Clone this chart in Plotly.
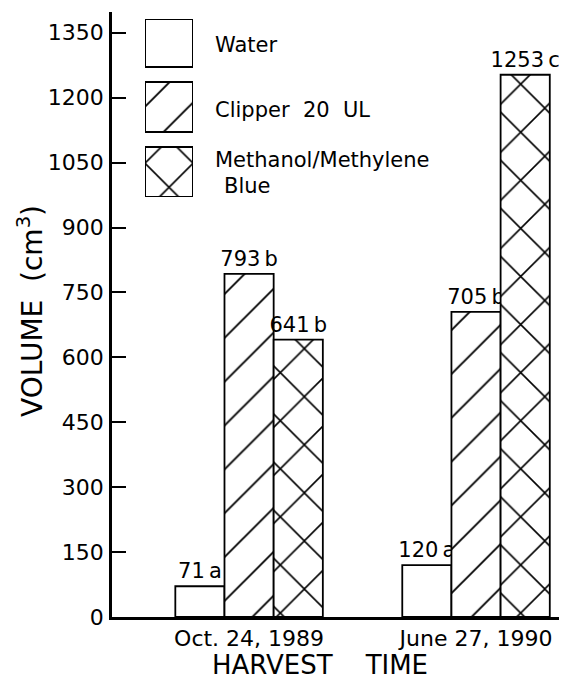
import plotly.graph_objects as go

# ---- data ----
harvest_dates = ["Oct. 24, 1989", "June 27, 1990"]
treatments = ["Water", "Clipper 20 UL", "Methanol/Methylene Blue"]
water = [71, 120]
clipper = [793, 705]
methanol = [641, 1253]
water_letters = ["a", "a"]
clipper_letters = ["b", "b"]
methanol_letters = ["b", "c"]
y_ticks = [0, 150, 300, 450, 600, 750, 900, 1050, 1200, 1350]

FONT = "DejaVu Sans"
# the page body has an 8px margin, so the figure sits at (8, 8) in the window
OFF = 8
W, H = 567 - OFF, 680 - OFF
L, R, T, B = 112 - OFF, 7, 12 - OFF, 63
PW, PH = W - L - R, H - T - B


def px(x):
    # page pixel x -> paper fraction
    return (x - OFF - L) / PW


def py(y):
    # page pixel y -> paper fraction
    return (H - B - (y - OFF)) / PH


def label(vals, letters):
    return [f"{v}\u2009{l}" for v, l in zip(vals, letters)]


patterns = [
    dict(shape=""),
    dict(shape="/", size=31, solidity=0.06, fgcolor="black", fgopacity=1,
         bgcolor="white", fillmode="overlay"),
    dict(shape="x", size=34, solidity=0.09, fgcolor="black", fgopacity=1,
         bgcolor="white", fillmode="overlay"),
]
series = [(water, water_letters), (clipper, clipper_letters), (methanol, methanol_letters)]

fig = go.Figure()
for name, (vals, letters), pat in zip(treatments, series, patterns):
    fig.add_trace(go.Bar(
        x=harvest_dates, y=vals, name=name,
        marker=dict(color="white", line=dict(color="black", width=1.8), pattern=pat),
        text=label(vals, letters), textposition="outside", constraintext="none",
        cliponaxis=False,
        textfont=dict(family=FONT, size=21, color="black"),
        showlegend=False,
    ))

# legend swatches drawn as bars on a hidden overlay axis
swatch_base = [130, 65, 0]
swatch_h = [48, 50, 50]
for name, pat, b0, h0 in zip(treatments, patterns, swatch_base, swatch_h):
    fig.add_trace(go.Bar(
        x=[0], y=[h0], base=[b0], width=1, offset=-0.5,
        xaxis="x2", yaxis="y2",
        marker=dict(color="white", line=dict(color="black", width=2), pattern=pat),
        showlegend=False, hoverinfo="skip",
    ))

ann = []
ann.append(dict(text="Water", x=px(213), y=py(45)))
ann.append(dict(text="Clipper\u00a0\u00a020\u00a0\u00a0UL", x=px(213), y=py(110)))
ann.append(dict(text="Methanol/Methylene", x=px(213), y=py(160)))
ann.append(dict(text="Blue", x=px(222), y=py(186)))
annotations = [dict(a, xref="paper", yref="paper", xanchor="left", yanchor="middle",
                    showarrow=False, font=dict(family=FONT, size=21, color="black")) for a in ann]
annotations.append(dict(text="HARVEST\u00a0\u00a0\u00a0\u00a0TIME", x=px(320), y=py(665),
                        xref="paper", yref="paper", xanchor="center", yanchor="middle",
                        showarrow=False, borderpad=0,
                        font=dict(family=FONT, size=26, color="black")))
annotations.append(dict(text="VOLUME\u00a0\u00a0(cm<sup>3</sup>)", x=px(31), y=py(311),
                        xref="paper", yref="paper", xanchor="center", yanchor="middle",
                        textangle=-90, showarrow=False,
                        font=dict(family=FONT, size=28, color="black")))

fig.update_layout(
    width=W, height=H,
    margin=dict(l=L, r=R, t=T, b=B, autoexpand=False),
    paper_bgcolor="white", plot_bgcolor="white",
    barmode="group", bargap=0.35, bargroupgap=0,
    font=dict(family=FONT, color="black"),
    annotations=annotations,
    xaxis=dict(
        type="category", range=[-0.604, 1.37], showline=True, linecolor="black",
        linewidth=2.5, ticks="", showgrid=False, zeroline=False,
        tickfont=dict(family=FONT, size=22, color="black"), ticklabelstandoff=0,
    ),
    yaxis=dict(
        range=[0, 1398], tickvals=y_ticks, ticks="inside", ticklen=14, tickwidth=2,
        tickcolor="black", showline=True, linecolor="black", linewidth=2.5,
        showgrid=False, zeroline=False, ticklabelstandoff=1,
        tickfont=dict(family=FONT, size=22, color="black"),
    ),
    xaxis2=dict(domain=[px(145), px(193)], range=[-0.5, 0.5], anchor="y2", visible=False),
    yaxis2=dict(domain=[py(197), py(19)], range=[0, 178], anchor="x2", visible=False),
)

fig.write_html("out.html")
